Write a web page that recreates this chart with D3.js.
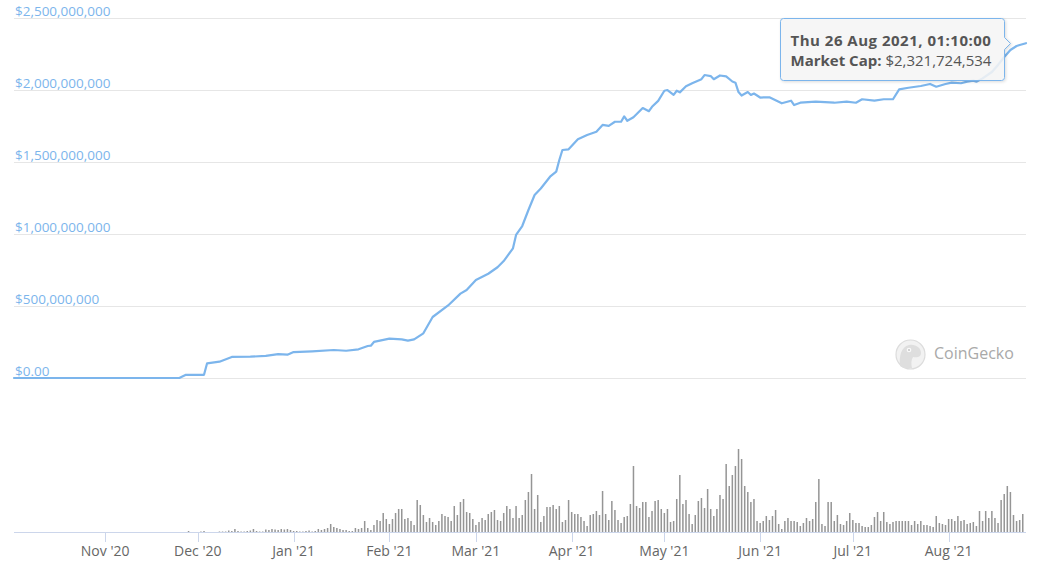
<!DOCTYPE html>
<html>
<head>
<meta charset="utf-8">
<script src="https://cdn.jsdelivr.net/npm/d3@7"></script>
<style>
  html, body { margin: 0; padding: 0; background: #ffffff; }
  svg { display: block; font-family: "Open Sans", "Noto Sans", sans-serif; }
</style>
</head>
<body>
<svg id="chart" width="1040" height="566"></svg>
<script>
// ---------- DATA ----------
// Market cap (USD millions)
const capDates = [
  "2020-10-02T12:00:00Z", "2020-11-25", "2020-11-27", "2020-12-03", "2020-12-04", "2020-12-08",
  "2020-12-12", "2020-12-18", "2020-12-23", "2020-12-27", "2020-12-30", "2021-01-01",
  "2021-01-07", "2021-01-14", "2021-01-18", "2021-01-22", "2021-01-25", "2021-01-26",
  "2021-01-27", "2021-02-01", "2021-02-05", "2021-02-07", "2021-02-09", "2021-02-12",
  "2021-02-15", "2021-02-20", "2021-02-24", "2021-02-26", "2021-03-01", "2021-03-05",
  "2021-03-08", "2021-03-10", "2021-03-13", "2021-03-14", "2021-03-16", "2021-03-18",
  "2021-03-20", "2021-03-22", "2021-03-25", "2021-03-27", "2021-03-28", "2021-03-29",
  "2021-03-31", "2021-04-03", "2021-04-06", "2021-04-09", "2021-04-11", "2021-04-13",
  "2021-04-15", "2021-04-17", "2021-04-18", "2021-04-19", "2021-04-21", "2021-04-24",
  "2021-04-26", "2021-04-27", "2021-04-29", "2021-05-01", "2021-05-02", "2021-05-04",
  "2021-05-05", "2021-05-06", "2021-05-08", "2021-05-10", "2021-05-13", "2021-05-14",
  "2021-05-16", "2021-05-17", "2021-05-19", "2021-05-21", "2021-05-23", "2021-05-24",
  "2021-05-25", "2021-05-26", "2021-05-28", "2021-05-29", "2021-05-30", "2021-06-01",
  "2021-06-04", "2021-06-08", "2021-06-11", "2021-06-12", "2021-06-14", "2021-06-19",
  "2021-06-25", "2021-06-29", "2021-07-02", "2021-07-04", "2021-07-08", "2021-07-11",
  "2021-07-14", "2021-07-16", "2021-07-19", "2021-07-23", "2021-07-26", "2021-07-28",
  "2021-07-31", "2021-08-02", "2021-08-05", "2021-08-07", "2021-08-09", "2021-08-10",
  "2021-08-12", "2021-08-15", "2021-08-17", "2021-08-19", "2021-08-21", "2021-08-23",
  "2021-08-24", "2021-08-26T01:10:00Z"
];
const capValues = [
  0, 0, 21, 22, 102, 113,
  146, 148, 153, 166, 162, 180,
  185, 194, 189, 199, 222, 224,
  250, 273, 268, 259, 268, 310,
  423, 503, 585, 610, 680, 723,
  768, 811, 899, 992, 1054, 1165,
  1269, 1314, 1396, 1431, 1512, 1581,
  1586, 1655, 1685, 1708, 1755, 1748,
  1777, 1777, 1814, 1784, 1808, 1872,
  1850, 1881, 1922, 1992, 1997, 1963,
  1992, 1981, 2023, 2044, 2072, 2101,
  2094, 2072, 2098, 2092, 2056, 2048,
  1983, 1959, 1983, 1963, 1973, 1945,
  1947, 1905, 1923, 1893, 1909, 1916,
  1909, 1916, 1909, 1933, 1923, 1933,
  1933, 2002, 2013, 2025, 2039, 2020,
  2039, 2048, 2044, 2055, 2062, 2055,
  2078, 2122, 2171, 2226, 2275, 2302,
  2309, 2321.724534
];

// Daily volume (relative units), first bar date below
const volumeStart = "2020-11-27";
const volumeValues = [
  0, 1, 0, 0, 0, 0.5, 1, 0, 0, 0, 0, 0.5, 0.5, 0.5, 1.5, 1, 3, 1, 0.5, 0.5,
  1, 1.5, 3, 1, 0.5, 0.5, 2.5, 2, 3, 2.5, 2, 3, 2.5, 3, 2, 1, 1, 0.5, 0.5, 1,
  1.5, 0.5, 1, 3, 2, 3, 4, 8, 5, 4, 3,
  2, 2, 1, 1, 4, 3, 4, 11, 4, 2, 7, 12, 11, 19, 13, 8, 13, 19, 23, 23,
  13, 14, 11, 7, 32, 27, 17, 10, 14, 10, 7, 11, 18, 16, 15, 11, 26, 17, 30, 33,
  20, 19, 13, 7, 10, 14, 12, 18, 20, 22, 12, 11, 19, 26, 23, 14, 26, 14,
  17, 32, 40, 58, 23, 37, 10, 16, 25, 25, 27, 23, 26, 10, 12, 32, 20, 18, 18, 15,
  11, 6, 17, 18, 21, 17, 41, 18, 12, 31, 22, 12, 9, 15, 16, 28, 66, 26, 24, 30,
  30, 15, 21, 31, 32, 23, 19, 23, 10, 11, 33, 57, 28, 32, 18, 8, 17, 31, 34, 24,
  43, 23, 16, 23, 37, 33, 68, 46, 57, 66, 83, 73, 46, 40, 30, 33, 11, 9, 11, 16,
  12, 16, 22, 8, 3, 11, 14, 11, 11, 10, 6, 9, 14, 11, 13, 30, 53, 8, 6, 30,
  30, 11, 17, 8, 7, 11, 19, 12, 9, 9, 6, 5, 5, 7, 15, 20, 11, 20, 10, 8,
  10, 11, 11, 11, 11, 11, 7, 11, 8, 11, 7, 7, 6, 5, 16, 9, 8, 7, 13, 13,
  11, 16, 11, 12, 8, 9, 10, 6, 21, 11, 21, 14, 21, 14, 9, 32, 38, 46, 40, 17,
  11, 12, 18
];

const yTickValues = [0, 500, 1000, 1500, 2000, 2500]; // USD millions
const xTickLabels = ["Nov '20", "Dec '20", "Jan '21", "Feb '21", "Mar '21", "Apr '21", "May '21", "Jun '21", "Jul '21", "Aug '21"];

const tooltipDate = "Thu 26 Aug 2021, 01:10:00";
const tooltipLabel = "Market Cap:";
const tooltipValue = "$2,321,724,534";
const brandName = "CoinGecko";

// ---------- BUILD ----------
const parse = s => new Date(s.length === 10 ? s + "T00:00:00Z" : s);
const capData = capDates.map((d, i) => ({ date: parse(d), v: capValues[i] }));
const vStart = parse(volumeStart);
const volData = volumeValues.map((v, i) => ({ date: d3.utcDay.offset(vStart, i), v }));

const svg = d3.select("#chart");
const x = d3.scaleUtc()
  .domain([parse("2020-10-02T12:00:00Z"), parse("2021-08-26T01:10:00Z")])
  .range([14, 1026]);
const y = d3.scaleLinear().domain([0, 2500]).range([378, 17.5]);
const yv = d3.scaleLinear().domain([0, 100]).range([532, 432]);

// gridlines
const grid = svg.append("g");
grid.selectAll("line").data(yTickValues).join("line")
  .attr("x1", 14).attr("x2", 1026)
  .attr("y1", d => Math.round(y(d)) + 0.5).attr("y2", d => Math.round(y(d)) + 0.5)
  .attr("stroke", "#e6e6e6").attr("stroke-width", 1);
grid.selectAll("text").data(yTickValues).join("text")
  .attr("x", 15).attr("y", d => y(d) - 2)
  .attr("fill", "#7cb5ec").attr("font-size", "13.5px")
  .text(d => d === 0 ? "$0.00" : "$" + d3.format(",")(d * 1e6));

// watermark
const wm = svg.append("g");
wm.append("circle").attr("cx", 910.5).attr("cy", 354.5).attr("r", 14.5)
  .attr("fill", "#f2f2f2").attr("stroke", "#dcdcdc").attr("stroke-width", 1.2);
wm.append("path")
  .attr("d", "M900,366 C899,356 901,347 909,345 C916,344 921,348 921,353 C921,357 917,358 913,357 C911,360 911,364 912,368 C908,369 903,368 900,366 Z")
  .attr("fill", "#dedede");
wm.append("circle").attr("cx", 909).attr("cy", 350).attr("r", 2.3).attr("fill", "#fafafa");
wm.append("circle").attr("cx", 909).attr("cy", 350).attr("r", 1.1).attr("fill", "#c8c8c8");
wm.append("text").attr("x", 934).attr("y", 359)
  .attr("font-size", "16px").attr("fill", "#a9a9a9").text(brandName);

// market cap line
const line = d3.line().x(d => x(d.date)).y(d => y(d.v));
svg.append("path").datum(capData)
  .attr("d", line)
  .attr("fill", "none").attr("stroke", "#7cb5ec").attr("stroke-width", 2.2)
  .attr("stroke-linejoin", "round").attr("stroke-linecap", "round");

// volume bars
svg.append("g").selectAll("rect").data(volData).join("rect")
  .attr("x", d => x(d.date) - 0.75)
  .attr("width", 1.5)
  .attr("y", d => yv(d.v))
  .attr("height", d => yv(0) - yv(d.v))
  .attr("fill", "#959595");

// x axis
const ax = svg.append("g");
ax.append("line").attr("x1", 14).attr("x2", 1026).attr("y1", 532.5).attr("y2", 532.5)
  .attr("stroke", "#ccd6eb").attr("stroke-width", 1);
const months = d3.utcMonth.range(parse("2020-11-01"), parse("2021-08-02"));
ax.selectAll(".tick").data(months).join("line")
  .attr("x1", d => Math.round(x(d)) + 0.5).attr("x2", d => Math.round(x(d)) + 0.5)
  .attr("y1", 532).attr("y2", 542)
  .attr("stroke", "#ccd6eb").attr("stroke-width", 1);
ax.selectAll("text").data(months).join("text")
  .attr("x", d => x(d)).attr("y", 556)
  .attr("text-anchor", "middle").attr("font-size", "14px").attr("fill", "#666666")
  .text((d, i) => xTickLabels[i]);

// tooltip
const tt = svg.append("g");
const defs = svg.append("defs");
const f = defs.append("filter").attr("id", "shadow").attr("x", "-10%").attr("y", "-10%").attr("width", "130%").attr("height", "140%");
f.append("feDropShadow").attr("dx", 1).attr("dy", 1).attr("stdDeviation", 1.5).attr("flood-color", "#000").attr("flood-opacity", 0.15);
const L = 780.5, T = 18.5, R = 1004.5, B = 80.5, r = 3, ay = 43.5, ax2 = 1010.5;
const pth = `M${L + r},${T} H${R - r} Q${R},${T} ${R},${T + r} V${ay - 6} L${ax2},${ay} L${R},${ay + 6} V${B - r} Q${R},${B} ${R - r},${B} H${L + r} Q${L},${B} ${L},${B - r} V${T + r} Q${L},${T} ${L + r},${T} Z`;
tt.append("path").attr("d", pth)
  .attr("fill", "rgba(247,247,247,0.85)").attr("stroke", "#7cb5ec").attr("stroke-width", 1)
  .attr("filter", "url(#shadow)");
tt.append("text").attr("x", 790.5).attr("y", 45.5)
  .attr("font-size", "15px").attr("letter-spacing", "0.5px").attr("font-weight", "bold").attr("fill", "#555555")
  .text(tooltipDate);
const t2 = tt.append("text").attr("x", 790.5).attr("y", 65.5)
  .attr("font-size", "15px").attr("fill", "#555555");
t2.append("tspan").attr("font-weight", "bold").text(tooltipLabel);
t2.append("tspan").text(" " + tooltipValue);
</script>
</body>
</html>
